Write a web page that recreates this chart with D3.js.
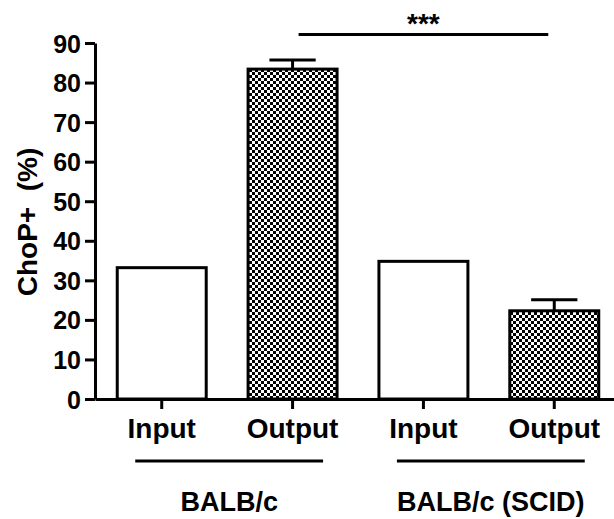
<!DOCTYPE html>
<html>
<head>
<meta charset="utf-8">
<script src="https://cdn.jsdelivr.net/npm/d3@7"></script>
<style>
  html, body { margin: 0; padding: 0; background: #fff; }
  svg { display: block; }
  text { font-family: "Liberation Sans", Arial, Helvetica, sans-serif; font-weight: bold; fill: #000; }
</style>
</head>
<body>
<svg id="chart" width="614" height="519"></svg>
<script>
// ---- data ----
const categories = ["BALB/c|Input", "BALB/c|Output", "SCID|Input", "SCID|Output"];
const tickLabels = ["Input", "Output", "Input", "Output"];
const values = [33.2, 83.4, 34.8, 22.3];
const errors = [0, 2.3, 0, 2.8];
const patterned = [false, true, false, true];
const groups = [
  { label: "BALB/c", members: ["BALB/c|Input", "BALB/c|Output"] },
  { label: "BALB/c (SCID)", members: ["SCID|Input", "SCID|Output"] }
];
const yTicks = [0, 10, 20, 30, 40, 50, 60, 70, 80, 90];
const yTitle = "ChoP+\u00a0 (%)";
const significance = { from: "BALB/c|Output", to: "SCID|Output", label: "***" };

// ---- layout ----
const svg = d3.select("#chart");
const x0 = 95, xEnd = 621, yBase = 399, yTop = 43;

const x = d3.scaleBand().domain(categories).range([x0, xEnd])
  .paddingInner(0.32).paddingOuter(0.17);
const y = d3.scaleLinear().domain([0, 90]).range([yBase, yTop]);
const bw = x.bandwidth();

// pattern (checkerboard)
const defs = svg.append("defs");
const pat = defs.append("pattern").attr("id", "checker")
  .attr("patternUnits", "userSpaceOnUse").attr("width", 6).attr("height", 6);
pat.append("rect").attr("width", 6).attr("height", 6).attr("fill", "#fff");
pat.append("rect").attr("x", 0).attr("y", 0).attr("width", 3).attr("height", 3).attr("fill", "#000");
pat.append("rect").attr("x", 3).attr("y", 3).attr("width", 3).attr("height", 3).attr("fill", "#000");

// bars
svg.append("g").selectAll("rect").data(categories).join("rect")
  .attr("x", d => x(d))
  .attr("y", (d, i) => y(values[i]))
  .attr("width", bw)
  .attr("height", (d, i) => y(0) - y(values[i]))
  .attr("fill", (d, i) => patterned[i] ? "url(#checker)" : "#fff")
  .attr("stroke", "#000")
  .attr("stroke-width", 3);

// error bars (upper only)
const eb = svg.append("g").attr("stroke", "#000").attr("stroke-width", 3);
categories.forEach((c, i) => {
  if (!errors[i]) return;
  const cx = x(c) + bw / 2;
  eb.append("line").attr("x1", cx).attr("x2", cx)
    .attr("y1", y(values[i])).attr("y2", y(values[i] + errors[i]));
  eb.append("line").attr("x1", cx - bw * 0.26).attr("x2", cx + bw * 0.26)
    .attr("y1", y(values[i] + errors[i])).attr("y2", y(values[i] + errors[i]));
});

// y axis
const yAxis = svg.append("g").attr("transform", `translate(${x0},0)`)
  .call(d3.axisLeft(y).tickValues(yTicks).tickSize(10).tickPadding(4).tickSizeOuter(0));
yAxis.select(".domain").attr("stroke-width", 3);
yAxis.selectAll(".tick line").attr("stroke-width", 3);
yAxis.selectAll("text").style("font-size", "25px").attr("dy", "0.36em");

// x axis
const xAxis = svg.append("g").attr("transform", `translate(0,${yBase})`)
  .call(d3.axisBottom(x).tickSize(10).tickPadding(9).tickSizeOuter(0)
    .tickFormat((d, i) => tickLabels[i]));
xAxis.select(".domain").attr("stroke-width", 3);
xAxis.selectAll(".tick line").attr("stroke-width", 3);
xAxis.selectAll("text").style("font-size", "28px");

// y title
svg.append("text")
  .attr("transform", `translate(37,${(y(0) + y(90)) / 2 + 1}) rotate(-90)`)
  .attr("text-anchor", "middle")
  .style("font-size", "28px")
  .text(yTitle);

// group lines and labels
groups.forEach(g => {
  const left = x(g.members[0]);
  const right = x(g.members[g.members.length - 1]) + bw;
  const cx = (left + right) / 2 + 2;
  const half = (right - left) / 2 - 16;
  svg.append("line").attr("x1", cx - half).attr("x2", cx + half)
    .attr("y1", 461).attr("y2", 461)
    .attr("stroke", "#000").attr("stroke-width", 3);
  svg.append("text").attr("x", cx).attr("y", 511)
    .attr("text-anchor", "middle").style("font-size", "27px").text(g.label);
});

// significance bar
const sx1 = x(significance.from) + bw / 2 + 6;
const sx2 = x(significance.to) + bw / 2 - 6;
svg.append("line").attr("x1", sx1).attr("x2", sx2)
  .attr("y1", 34.5).attr("y2", 34.5)
  .attr("stroke", "#000").attr("stroke-width", 3);
svg.append("text").attr("x", (sx1 + sx2) / 2).attr("y", 33)
  .attr("text-anchor", "middle").style("font-size", "28px").text(significance.label);
</script>
</body>
</html>
